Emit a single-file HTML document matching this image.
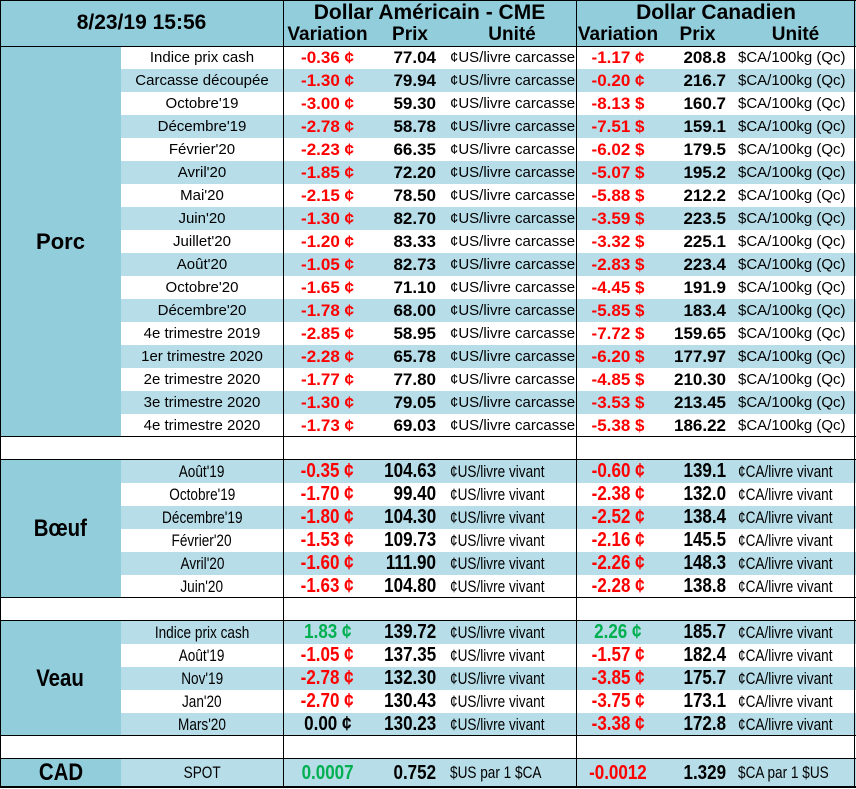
<!DOCTYPE html>
<html><head><meta charset="utf-8"><style>
body{margin:0;width:856px;height:789px;background:#fff;font-family:"Liberation Sans",Arial,sans-serif;position:relative;overflow:hidden}
.r{position:absolute;left:121px;width:735px;height:23px;}
.c{position:absolute;top:0;height:23px;line-height:23px;white-space:nowrap;color:#000}
.lab{left:0;width:162px;text-align:center;font-size:15px}
.v1{left:162px;width:89px;text-align:center;font-size:17px;font-weight:bold;color:#f00}
.p1{left:251px;width:64px;text-align:right;font-size:17px;font-weight:bold}
.u1{left:329px;font-size:15px}
.v2{left:455px;width:84px;text-align:center;font-size:17px;font-weight:bold;color:#f00}
.p2{left:539px;width:66px;text-align:right;font-size:17px;font-weight:bold}
.u2{left:617px;font-size:15px}
.b{background:#b7dde8}
.g{color:#00b050}
.k{color:#000}
.n .lab,.n .u1,.n .u2{font-size:17px}
.n .v1,.n .v2,.n .p1,.n .p2{font-size:20px}
.n span{display:inline-block;transform:scaleX(.8)}
.n .v1 span,.n .v2 span,.n .p1 span,.n .p2 span{transform:scaleX(.85)}
.n .lab span,.n .v1 span,.n .v2 span{transform-origin:center}
.n .p1 span,.n .p2 span{transform-origin:right}
.n .u1 span,.n .u2 span{transform-origin:left}
.grp{position:absolute;left:0;width:121px;background:#92cddc;font-weight:bold;font-size:22px;display:flex;align-items:center;justify-content:center}
.grp.n2{font-size:24px}
.grp.n2 span{display:inline-block;transform:scaleX(.85)}
.hl{position:absolute;left:0;width:856px;height:1px;background:#000}
.vl{position:absolute;width:1px;background:#000}
.hd{position:absolute;font-weight:bold;font-size:19px;text-align:center}
</style></head><body>
<div style="position:absolute;left:0;top:0;width:856px;height:46px;background:#92cddc"></div>
<div class="hd" style="left:0;top:11px;width:283px;font-size:21px">8/23/19 15:56</div>
<div class="hd" style="left:283px;top:1px;width:293px;font-size:21px">Dollar Américain - CME</div>
<div class="hd" style="left:283px;top:24px;width:89px">Variation</div>
<div class="hd" style="left:372px;top:24px;width:76px">Prix</div>
<div class="hd" style="left:448px;top:24px;width:128px">Unité</div>
<div class="hd" style="left:576px;top:1px;width:280px;font-size:21px">Dollar Canadien</div>
<div class="hd" style="left:576px;top:24px;width:84px">Variation</div>
<div class="hd" style="left:660px;top:24px;width:75px">Prix</div>
<div class="hd" style="left:735px;top:24px;width:121px">Unité</div>

<div class="grp" style="top:46px;height:391px">Porc</div>
<div class="grp n2" style="top:460px;height:138px"><span>Bœuf</span></div>
<div class="grp n2" style="top:621px;height:115px"><span>Veau</span></div>
<div class="grp n2" style="top:759px;height:28px"><span>CAD</span></div>

<div class="r" style="top:46px"><div class="c lab">Indice prix cash</div><div class="c v1">-0.36 ¢</div><div class="c p1">77.04</div><div class="c u1">¢US/livre carcasse</div><div class="c v2">-1.17 ¢</div><div class="c p2">208.8</div><div class="c u2">$CA/100kg (Qc)</div></div>
<div class="r b" style="top:69px"><div class="c lab">Carcasse découpée</div><div class="c v1">-1.30 ¢</div><div class="c p1">79.94</div><div class="c u1">¢US/livre carcasse</div><div class="c v2">-0.20 ¢</div><div class="c p2">216.7</div><div class="c u2">$CA/100kg (Qc)</div></div>
<div class="r" style="top:92px"><div class="c lab">Octobre'19</div><div class="c v1">-3.00 ¢</div><div class="c p1">59.30</div><div class="c u1">¢US/livre carcasse</div><div class="c v2">-8.13 $</div><div class="c p2">160.7</div><div class="c u2">$CA/100kg (Qc)</div></div>
<div class="r b" style="top:115px"><div class="c lab">Décembre'19</div><div class="c v1">-2.78 ¢</div><div class="c p1">58.78</div><div class="c u1">¢US/livre carcasse</div><div class="c v2">-7.51 $</div><div class="c p2">159.1</div><div class="c u2">$CA/100kg (Qc)</div></div>
<div class="r" style="top:138px"><div class="c lab">Février'20</div><div class="c v1">-2.23 ¢</div><div class="c p1">66.35</div><div class="c u1">¢US/livre carcasse</div><div class="c v2">-6.02 $</div><div class="c p2">179.5</div><div class="c u2">$CA/100kg (Qc)</div></div>
<div class="r b" style="top:161px"><div class="c lab">Avril'20</div><div class="c v1">-1.85 ¢</div><div class="c p1">72.20</div><div class="c u1">¢US/livre carcasse</div><div class="c v2">-5.07 $</div><div class="c p2">195.2</div><div class="c u2">$CA/100kg (Qc)</div></div>
<div class="r" style="top:184px"><div class="c lab">Mai'20</div><div class="c v1">-2.15 ¢</div><div class="c p1">78.50</div><div class="c u1">¢US/livre carcasse</div><div class="c v2">-5.88 $</div><div class="c p2">212.2</div><div class="c u2">$CA/100kg (Qc)</div></div>
<div class="r b" style="top:207px"><div class="c lab">Juin'20</div><div class="c v1">-1.30 ¢</div><div class="c p1">82.70</div><div class="c u1">¢US/livre carcasse</div><div class="c v2">-3.59 $</div><div class="c p2">223.5</div><div class="c u2">$CA/100kg (Qc)</div></div>
<div class="r" style="top:230px"><div class="c lab">Juillet'20</div><div class="c v1">-1.20 ¢</div><div class="c p1">83.33</div><div class="c u1">¢US/livre carcasse</div><div class="c v2">-3.32 $</div><div class="c p2">225.1</div><div class="c u2">$CA/100kg (Qc)</div></div>
<div class="r b" style="top:253px"><div class="c lab">Août'20</div><div class="c v1">-1.05 ¢</div><div class="c p1">82.73</div><div class="c u1">¢US/livre carcasse</div><div class="c v2">-2.83 $</div><div class="c p2">223.4</div><div class="c u2">$CA/100kg (Qc)</div></div>
<div class="r" style="top:276px"><div class="c lab">Octobre'20</div><div class="c v1">-1.65 ¢</div><div class="c p1">71.10</div><div class="c u1">¢US/livre carcasse</div><div class="c v2">-4.45 $</div><div class="c p2">191.9</div><div class="c u2">$CA/100kg (Qc)</div></div>
<div class="r b" style="top:299px"><div class="c lab">Décembre'20</div><div class="c v1">-1.78 ¢</div><div class="c p1">68.00</div><div class="c u1">¢US/livre carcasse</div><div class="c v2">-5.85 $</div><div class="c p2">183.4</div><div class="c u2">$CA/100kg (Qc)</div></div>
<div class="r" style="top:322px"><div class="c lab">4e trimestre 2019</div><div class="c v1">-2.85 ¢</div><div class="c p1">58.95</div><div class="c u1">¢US/livre carcasse</div><div class="c v2">-7.72 $</div><div class="c p2">159.65</div><div class="c u2">$CA/100kg (Qc)</div></div>
<div class="r b" style="top:345px"><div class="c lab">1er trimestre 2020</div><div class="c v1">-2.28 ¢</div><div class="c p1">65.78</div><div class="c u1">¢US/livre carcasse</div><div class="c v2">-6.20 $</div><div class="c p2">177.97</div><div class="c u2">$CA/100kg (Qc)</div></div>
<div class="r" style="top:368px"><div class="c lab">2e trimestre 2020</div><div class="c v1">-1.77 ¢</div><div class="c p1">77.80</div><div class="c u1">¢US/livre carcasse</div><div class="c v2">-4.85 $</div><div class="c p2">210.30</div><div class="c u2">$CA/100kg (Qc)</div></div>
<div class="r b" style="top:391px"><div class="c lab">3e trimestre 2020</div><div class="c v1">-1.30 ¢</div><div class="c p1">79.05</div><div class="c u1">¢US/livre carcasse</div><div class="c v2">-3.53 $</div><div class="c p2">213.45</div><div class="c u2">$CA/100kg (Qc)</div></div>
<div class="r" style="top:414px"><div class="c lab">4e trimestre 2020</div><div class="c v1">-1.73 ¢</div><div class="c p1">69.03</div><div class="c u1">¢US/livre carcasse</div><div class="c v2">-5.38 $</div><div class="c p2">186.22</div><div class="c u2">$CA/100kg (Qc)</div></div>

<div class="r b n" style="top:460px"><div class="c lab"><span>Août'19</span></div><div class="c v1"><span>-0.35 ¢</span></div><div class="c p1"><span>104.63</span></div><div class="c u1"><span>¢US/livre vivant</span></div><div class="c v2"><span>-0.60 ¢</span></div><div class="c p2"><span>139.1</span></div><div class="c u2"><span>¢CA/livre vivant</span></div></div>
<div class="r n" style="top:483px"><div class="c lab"><span>Octobre'19</span></div><div class="c v1"><span>-1.70 ¢</span></div><div class="c p1"><span>99.40</span></div><div class="c u1"><span>¢US/livre vivant</span></div><div class="c v2"><span>-2.38 ¢</span></div><div class="c p2"><span>132.0</span></div><div class="c u2"><span>¢CA/livre vivant</span></div></div>
<div class="r b n" style="top:506px"><div class="c lab"><span>Décembre'19</span></div><div class="c v1"><span>-1.80 ¢</span></div><div class="c p1"><span>104.30</span></div><div class="c u1"><span>¢US/livre vivant</span></div><div class="c v2"><span>-2.52 ¢</span></div><div class="c p2"><span>138.4</span></div><div class="c u2"><span>¢CA/livre vivant</span></div></div>
<div class="r n" style="top:529px"><div class="c lab"><span>Février'20</span></div><div class="c v1"><span>-1.53 ¢</span></div><div class="c p1"><span>109.73</span></div><div class="c u1"><span>¢US/livre vivant</span></div><div class="c v2"><span>-2.16 ¢</span></div><div class="c p2"><span>145.5</span></div><div class="c u2"><span>¢CA/livre vivant</span></div></div>
<div class="r b n" style="top:552px"><div class="c lab"><span>Avril'20</span></div><div class="c v1"><span>-1.60 ¢</span></div><div class="c p1"><span>111.90</span></div><div class="c u1"><span>¢US/livre vivant</span></div><div class="c v2"><span>-2.26 ¢</span></div><div class="c p2"><span>148.3</span></div><div class="c u2"><span>¢CA/livre vivant</span></div></div>
<div class="r n" style="top:575px"><div class="c lab"><span>Juin'20</span></div><div class="c v1"><span>-1.63 ¢</span></div><div class="c p1"><span>104.80</span></div><div class="c u1"><span>¢US/livre vivant</span></div><div class="c v2"><span>-2.28 ¢</span></div><div class="c p2"><span>138.8</span></div><div class="c u2"><span>¢CA/livre vivant</span></div></div>

<div class="r b n" style="top:621px"><div class="c lab"><span>Indice prix cash</span></div><div class="c v1 g"><span>1.83 ¢</span></div><div class="c p1"><span>139.72</span></div><div class="c u1"><span>¢US/livre vivant</span></div><div class="c v2 g"><span>2.26 ¢</span></div><div class="c p2"><span>185.7</span></div><div class="c u2"><span>¢CA/livre vivant</span></div></div>
<div class="r n" style="top:644px"><div class="c lab"><span>Août'19</span></div><div class="c v1"><span>-1.05 ¢</span></div><div class="c p1"><span>137.35</span></div><div class="c u1"><span>¢US/livre vivant</span></div><div class="c v2"><span>-1.57 ¢</span></div><div class="c p2"><span>182.4</span></div><div class="c u2"><span>¢CA/livre vivant</span></div></div>
<div class="r b n" style="top:667px"><div class="c lab"><span>Nov'19</span></div><div class="c v1"><span>-2.78 ¢</span></div><div class="c p1"><span>132.30</span></div><div class="c u1"><span>¢US/livre vivant</span></div><div class="c v2"><span>-3.85 ¢</span></div><div class="c p2"><span>175.7</span></div><div class="c u2"><span>¢CA/livre vivant</span></div></div>
<div class="r n" style="top:690px"><div class="c lab"><span>Jan'20</span></div><div class="c v1"><span>-2.70 ¢</span></div><div class="c p1"><span>130.43</span></div><div class="c u1"><span>¢US/livre vivant</span></div><div class="c v2"><span>-3.75 ¢</span></div><div class="c p2"><span>173.1</span></div><div class="c u2"><span>¢CA/livre vivant</span></div></div>
<div class="r b n" style="top:713px"><div class="c lab"><span>Mars'20</span></div><div class="c v1 k"><span>0.00 ¢</span></div><div class="c p1"><span>130.23</span></div><div class="c u1"><span>¢US/livre vivant</span></div><div class="c v2"><span>-3.38 ¢</span></div><div class="c p2"><span>172.8</span></div><div class="c u2"><span>¢CA/livre vivant</span></div></div>

<div class="r b n" style="top:759px;height:28px"><div class="c lab" style="height:28px;line-height:28px"><span>SPOT</span></div><div class="c v1 g" style="line-height:28px"><span>0.0007</span></div><div class="c p1" style="line-height:28px"><span>0.752</span></div><div class="c u1" style="line-height:28px"><span>$US par 1 $CA</span></div><div class="c v2" style="line-height:28px"><span>-0.0012</span></div><div class="c p2" style="line-height:28px"><span>1.329</span></div><div class="c u2" style="line-height:28px"><span>$CA par 1 $US</span></div></div>

<div class="hl" style="top:0"></div>
<div class="hl" style="top:46px"></div>
<div class="hl" style="top:436px"></div>
<div class="hl" style="top:459px"></div>
<div class="hl" style="top:597px"></div>
<div class="hl" style="top:620px"></div>
<div class="hl" style="top:735px"></div>
<div class="hl" style="top:758px"></div>
<div class="hl" style="top:786px;height:2px"></div>
<div class="vl" style="left:0;top:0;height:788px"></div>
<div class="vl" style="left:854px;top:0;height:788px"></div>
<div class="vl" style="left:283px;top:0;height:788px"></div>
<div class="vl" style="left:576px;top:0;height:788px"></div>
</body></html>
